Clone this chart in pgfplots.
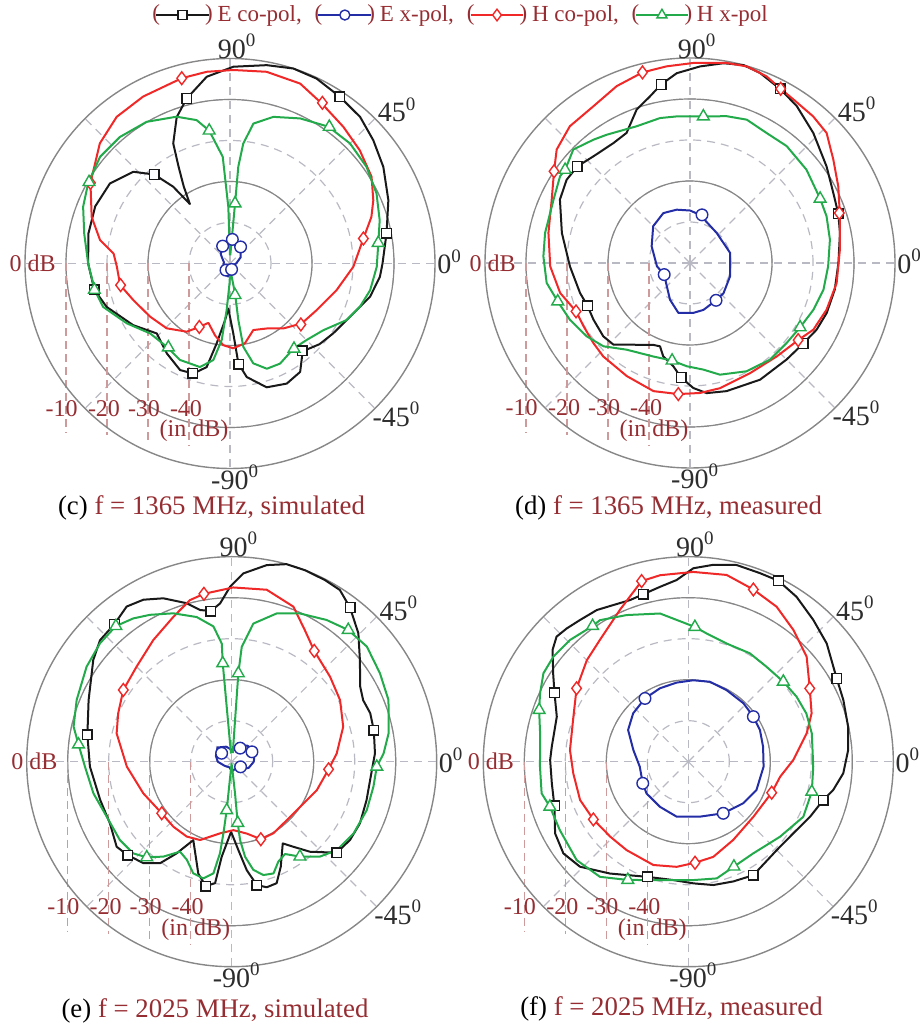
\documentclass[border=0pt]{standalone}
\usepackage{fontspec}
\setmainfont{Liberation Serif}
\usepackage{pgfplots}
\pgfplotsset{compat=1.18}
\usepgfplotslibrary{polar}

\definecolor{dred}{RGB}{150,45,50}
\definecolor{gridd}{RGB}{185,185,195}
\definecolor{grids}{RGB}{135,135,135}
\definecolor{pinkd}{RGB}{205,155,155}
\definecolor{cblk}{RGB}{25,25,25}
\definecolor{cblu}{RGB}{35,45,165}
\definecolor{cred}{RGB}{240,40,40}
\definecolor{cgrn}{RGB}{35,170,75}
\definecolor{lblc}{RGB}{45,45,45}

\newcommand\fa{\fontsize{14}{16}\selectfont}
\newcommand\fb{\fontsize{12}{14}\selectfont}
\newcommand\fcap{\fontsize{13.4}{15}\selectfont}
\newcommand\fleg{\fontsize{11.5}{13}\selectfont}
\newcommand\dg{\raisebox{0.42em}{\fontsize{9.5}{10}\selectfont 0}}

\pgfplotsset{
  pat/.style={
    scale only axis, width=205pt, height=205pt, anchor=center,
    xmin=0, xmax=360, ymin=0, ymax=50,
    xtick=\empty, ytick=\empty,
    x axis line style={grids, line width=0.7pt},
    y axis line style={draw=none},
    clip=false,
    y filter/.expression={y+50},
  },
  lE/.style={cblk, line width=1pt, no markers, line join=round},
  lX/.style={cblu, line width=1pt, no markers, line join=round},
  lH/.style={cred, line width=1pt, no markers, line join=round},
  lG/.style={cgrn, line width=1pt, no markers, line join=round},
  mE/.style={only marks, mark=square*, mark size=2.4pt, mark options={draw=cblk, fill=white, line width=0.7pt, solid}},
  mX/.style={only marks, mark=*, mark size=2.9pt, mark options={draw=cblu, fill=white, line width=0.7pt, solid}},
  mH/.style={only marks, mark=diamond*, mark size=3.2pt, mark options={draw=cred, fill=white, line width=0.7pt, solid}},
  mG/.style={only marks, mark=triangle*, mark size=3.4pt, mark options={draw=cgrn, fill=white, line width=0.7pt, solid}},
}

% polar grid: dashed spokes and rings, solid rings at -30 and -10 dB
\newcommand\pgrid[2]{%
 \begin{scope}[shift={(#1pt,#2pt)}]
  \foreach \a in {0,45,...,315} {\draw[gridd, line width=0.6pt, dash pattern=on 4pt off 3pt] (0pt,0pt) -- (\a:102.5pt);}
  \foreach \r in {20.5,41,61.5,82} {\draw[gridd, line width=0.6pt, dash pattern=on 4pt off 3pt] (0pt,0pt) circle[radius=\r pt];}
  \draw[grids, line width=0.6pt] (0pt,0pt) circle[radius=41pt];
  \draw[grids, line width=0.6pt] (0pt,0pt) circle[radius=82pt];
  \draw[pinkd, line width=0.6pt, dash pattern=on 4pt off 2.5pt] (-82pt,0pt) -- (-82pt,-85pt);
  \draw[pinkd, line width=0.6pt, dash pattern=on 4pt off 2.5pt] (-61.5pt,0pt) -- (-61.5pt,-86pt);
  \draw[pinkd, line width=0.6pt, dash pattern=on 4pt off 2.5pt] (-41pt,0pt) -- (-41pt,-90pt);
  \draw[pinkd, line width=0.6pt, dash pattern=on 4pt off 2.5pt] (-20.5pt,0pt) -- (-20.5pt,-91.5pt);
 \end{scope}}

\newcommand\labels[2]{%
 \begin{scope}[shift={(#1pt,#2pt)}]
  \node[text=lblc, font=\fa, inner sep=0pt] at (3.3pt,108.5pt) {90\dg};
  \node[text=lblc, font=\fa, inner sep=0pt] at (83.3pt,76.8pt) {45\dg};
  \node[text=lblc, font=\fa, inner sep=0pt] at (109.5pt,0.8pt) {0\dg};
  \node[text=lblc, font=\fa, inner sep=0pt] at (83pt,-75.3pt) {-45\dg};
  \node[text=lblc, font=\fa, inner sep=0pt] at (2.3pt,-106.8pt) {-90\dg};
  \node[text=dred, font=\fb, inner sep=0pt] at (-98.7pt,0pt) {0 dB};
  \node[text=dred, font=\fb, inner sep=0pt] at (-84.2pt,-72.5pt) {-10};
  \node[text=dred, font=\fb, inner sep=0pt] at (-63pt,-72.5pt) {-20};
  \node[text=dred, font=\fb, inner sep=0pt] at (-43pt,-72.5pt) {-30};
  \node[text=dred, font=\fb, inner sep=0pt] at (-22pt,-72.5pt) {-40};
  \node[text=dred, font=\fb, inner sep=0pt] at (-18pt,-83.8pt) {(in dB)};
 \end{scope}}

\begin{document}
\begin{tikzpicture}
\useasboundingbox (0pt,0pt) rectangle (460pt,513.5pt);
\pgrid{115}{381.75}
\pgrid{345}{382}
\pgrid{115.85}{132.65}
\pgrid{344.15}{132.65}

% ---------------- (c) 1365 MHz simulated ----------------
\begin{polaraxis}[pat, at={(115pt,381.75pt)},
  legend columns=4,
  legend style={at={(1.067,1.106)}, anchor=center, draw=none, fill=none, font=\fleg,
    inner sep=0pt, nodes={inner sep=2.4pt},
    /tikz/every even column/.append style={column sep=4pt}},
  legend image code/.code={%
    \draw[mark repeat=2, mark phase=2] plot coordinates {(0.8pt,0pt) (14pt,0pt) (27.2pt,0pt)};
    \node[text=dred, inner sep=0pt, font=\fleg] at (0.8pt,0.3pt) {(};
    \node[text=dred, inner sep=0pt, font=\fleg] at (27.2pt,0.3pt) {)};
  }]
\addlegendimage{cblk, line width=1pt, mark=square*, mark size=2.3pt, mark options={fill=white, line width=0.7pt}}
\addlegendentry{\textcolor{dred}{E co-pol,}}
\addlegendimage{cblu, line width=1pt, mark=*, mark size=2.5pt, mark options={fill=white, line width=0.7pt}}
\addlegendentry{\textcolor{dred}{E x-pol,}}
\addlegendimage{cred, line width=1pt, mark=diamond*, mark size=2.9pt, mark options={fill=white, line width=0.7pt}}
\addlegendentry{\textcolor{dred}{H co-pol,}}
\addlegendimage{cgrn, line width=1pt, mark=triangle*, mark size=2.9pt, mark options={fill=white, line width=0.7pt}}
\addlegendentry{\textcolor{dred}{H x-pol}}
\addplot[lE, forget plot] table {
0 -12.8
11 -11.1
21.8 -8.4
32.2 -5.8
40.7 -3.9
48.4 -2.2
56.6 -1.3
64.9 -0.2
72 0
79.5 -0.8
89 -2
97.1 -4.1
104.7 -8.4
110 -12
115.3 -17.6
118 -23.3
121 -28.1
124 -32.5
126.5 -26.7
130.4 -21.5
136.5 -17.5
146.3 -14.8
157 -14.3
168 -14.7
180 -15.4
191 -16.3
199.4 -18.1
212.5 -22
223.7 -25.3
234.9 -23.2
244.9 -21.3
251.6 -21.7
257.3 -24.1
260.5 -30.2
265 -36.1
267.9 -39
272.7 -32.9
274.8 -25.5
278.4 -22
286.5 -18.5
295.3 -17.6
302.9 -18.5
309.6 -22.2
318 -20.6
325.9 -19.6
336 -18
346.6 -14.9
354.9 -13.3
360 -12.8
};
\addplot[mE, forget plot] table {
11 -11.1
56.6 -1.3
104.7 -8.4
130.4 -21.5
191 -16.3
251.3 -21.7
275 -25.3
309.6 -22.4
};
\addplot[lX, forget plot] table {
0 -48.5
30 -47
57 -45.2
70 -45.8
84 -44.1
98 -45.2
113 -45.4
135 -46.8
170 -48.5
210 -48
239 -47.2
262 -46.8
285 -47.4
310 -48.5
340 -49
360 -48.5
};
\addplot[mX, forget plot] table {
113 -45.4
84.4 -44.1
57.4 -45.2
239 -48.1
285 -48.5
};
\addplot[lH, forget plot] table {
-1.5 -19.9
10.6 -16.9
18.2 -13.7
23.8 -11.8
31.5 -9.5
41.1 -8
50.3 -6.7
60.2 -5
68.7 -2.9
79.2 -2.4
89 -2.8
96.9 -2.9
104.6 -3.3
117.5 -4.1
127.7 -4.8
137.3 -6.8
150 -10.7
161.4 -14.4
169.8 -17.8
175.1 -21.5
181.7 -22.4
191.1 -22.7
200.8 -24.8
213.7 -26.6
225.7 -27.9
237.6 -30.3
244.2 -32.8
250 -34.6
258.2 -32.1
265.3 -30
272.2 -29.3
280.6 -30.2
289.3 -32.8
299.4 -31.8
309.4 -29.5
320.1 -27.2
331.7 -26
346 -23.2
358.5 -19.9
};
\addplot[mH, forget plot] table {
10.6 -16.9
60.1 -4.8
104.6 -3.3
150 -10.7
191.2 -22.8
244.2 -32.8
319.3 -27.2
};
\addplot[lG, forget plot] table {
88 -48
85.2 -35.3
85.1 -26.3
83.7 -20.6
80.5 -15.4
73.5 -12.7
64.2 -10.7
54.3 -8.9
45 -8.6
35.3 -9.2
25.5 -10.4
16.1 -12
7.7 -13.5
-1.3 -14.2
-10.8 -15.2
-18.4 -16.6
-25.9 -18.4
-35.5 -22
-45 -23.6
-53.3 -24.1
-63.4 -22.7
-70.7 -22.8
-76.9 -25
-80.9 -29.4
-81.6 -36
-80.5 -42.6
-87 -48.5
268.5 -45
265.9 -38.6
263.8 -31.2
260.2 -26.1
253.8 -23.7
242.6 -23.5
232.8 -24.5
221.2 -24.1
210.1 -20.9
198.9 -17.3
191.2 -16.4
180 -15.4
168.4 -13.7
158.9 -11.6
150.3 -10.2
140.6 -9
131 -9.1
120.5 -9.9
110 -11.9
103.1 -14.1
98.9 -17.2
93.9 -23.9
91.7 -36.2
90 -48
};
\addplot[mG, forget plot] table {
7.9 -13.5
54 -8.8
85.2 -35.3
98.9 -17.2
150 -10.3
191 -16.3
233.7 -24.6
279 -42.2
306.9 -24
};
\end{polaraxis}

% ---------------- (d) 1365 MHz measured ----------------
\begin{polaraxis}[pat, at={(345pt,382pt)}]
\addplot[lE] table {
18.3 -11.9
11.3 -12.7
0 -13.8
-10.4 -14.1
-20.1 -14.5
-27.8 -15.1
-35.4 -16.1
-45 -16.7
-59 -16.8
-74.1 -17.5
-82.7 -18
-88.5 -19.5
-94.5 -22
-99.2 -24.5
-106 -26.3
-109.8 -28.4
-114.2 -28.1
-133.2 -22.7
-139.8 -22.3
-149.6 -22.7
-157.4 -22.9
-164.7 -22.2
-178.4 -20.7
166.8 -17.9
154 -14.7
146 -13.7
139.4 -13.8
132.2 -14.9
122.6 -15.3
116 -14.7
109.2 -10.4
103.5 -8.2
99.2 -5.9
94 -3.6
87.1 -2
80.5 -0.6
74.9 0
69.8 -0.6
62.6 -2.2
55.8 -3.7
46.5 -6.3
35.3 -9.2
26 -11.1
18.3 -11.9
};
\addplot[mE] table {
18.3 -11.9
-35.4 -16.1
-94.5 -22
-157.4 -22.9
139.4 -13.8
99.2 -5.9
62.6 -2.2
};
\addplot[lX] table {
90 -37.2
78.3 -38
48.4 -40.2
14 -39.9
-18.4 -39.7
-42 -39
-55.1 -38.9
-74 -38.1
-86.2 -37.8
-103.1 -37.5
-118.6 -39.8
-135 -42
-155.8 -43.1
-174.3 -41.9
156.5 -39.8
135 -37.3
118.1 -36.2
104 -36.6
90 -37.2
};
\addplot[mX] table {
76 -37.9
-55.1 -38.9
-155.8 -43.1
};
\addplot[lH] table {
35.8 -6.9
27.3 -9.3
18.4 -11.5
5.1 -13.3
-7.8 -13.9
-18.9 -14.8
-28.4 -15.8
-35.5 -17.6
-47.1 -18.9
-61.4 -19.4
-76.5 -18.6
-85.6 -18.2
-95.1 -17.9
-105.9 -17.5
-119.2 -18.4
-132.9 -18.9
-140.4 -19.4
-149.3 -19.8
-157 -19.8
-167 -17.5
-178.6 -15.9
168 -14.7
155.4 -12.9
146 -10
139.6 -7.3
131.3 -5.6
121.7 -5.1
112.5 -3.3
104 -2.1
96.8 -1.7
89 -1.2
79.6 -0.4
73.9 -0.1
67.7 -0.8
62.5 -2.1
57.7 -2.8
50 -3.3
43.6 -4
35.8 -6.9
};
\addplot[mH] table {
104 -2.1
62.5 -2.1
18.5 -11.6
146 -10
-157 -19.8
-35.5 -17.6
-95.1 -17.9
};
\addplot[lG] table {
84.8 -14.1
76 -13.1
68.4 -12.4
59.5 -13.2
50.4 -13
38.7 -13.6
26.3 -14.6
18.9 -14.8
9.5 -15.4
-1.4 -16.3
-11.3 -16.8
-20.7 -17.8
-30.3 -18.9
-39.6 -19.4
-50.4 -19.4
-62.4 -20.2
-75 -21.8
-82.9 -23.8
-91.8 -24.8
-100.4 -25.8
-111.4 -25.5
-126.2 -23.8
-136.1 -20.7
-144.6 -19.1
-154.7 -17.6
-163.8 -16.4
-172.1 -14.7
177.4 -14.2
168.3 -13.9
155.1 -13.3
146.3 -11.9
143.3 -12
135.8 -10.3
128.1 -11.8
123 -12.7
111.3 -14.2
101.7 -13.9
95.2 -14.1
84.8 -14.1
};
\addplot[mG] table {
84.8 -14.1
26.3 -14.6
-30.3 -18.9
-100.4 -25.8
-163.8 -16.4
143.3 -12
};
\end{polaraxis}

% ---------------- (e) 2025 MHz simulated ----------------
\begin{polaraxis}[pat, at={(115.85pt,132.65pt)}]
\addplot[lE] table {
12.5 -14.5
19.3 -14.2
25.1 -14.6
30.3 -13.7
38.4 -10.1
45.4 -6
52.5 -2.6
57.8 -0.5
62.8 -0.2
69 0
74.5 0
79.9 -1.3
86.5 -4
90.5 -7.3
94.2 -11.3
97.9 -12.9
101.8 -12.2
105.9 -9.8
112.7 -6.8
118.6 -5
124.1 -4.3
130.4 -5.9
137.3 -6.3
143.7 -8.1
156.7 -12
169.5 -14.2
182 -15.4
196.2 -16.6
206.9 -16.7
216.5 -15.1
221.9 -15.9
229 -17.2
234.8 -19.7
239 -23.9
243.9 -28.7
253.4 -21.5
258.2 -19
262.2 -20.1
264 -26.7
269.5 -32.9
274.3 -28.4
277.9 -23.3
281.5 -19.3
285.6 -18.2
290.3 -18.4
295 -21.7
302 -26.5
305.9 -24.4
311 -20.9
319.1 -16.1
326.5 -15.4
334.3 -15.3
344.1 -15.8
353.8 -15.9
363.3 -15
372.5 -14.5
};
\addplot[mE] table {
12.5 -14.5
52.5 -2.6
97.9 -12.9
130.4 -5.9
169.5 -14.2
221.9 -15.9
258.2 -19
281.5 -19.3
319.1 -16.1
};
\addplot[lX] table {
0 -44.6
20 -44.1
45 -44.5
70 -45.8
90 -47.1
110 -46.1
135 -45.1
160 -45.9
180 -46.6
210 -48
250 -48.5
270 -47.6
290 -48
320 -47.1
340 -45.6
360 -44.6
};
\addplot[mX] table {
140 -46.8
58 -46.1
26 -44.5
330 -47.5
};
\addplot[lH] table {
99.4 -8.5
89.5 -7.5
78.5 -7.2
68.3 -9.3
60.9 -13.3
53.3 -16.3
40.8 -18.3
29.6 -19.6
17.4 -21.5
4.5 -24.3
-4.5 -26.3
-18.4 -28.1
-33.4 -30
-46.7 -30.4
-59.8 -29.8
-69.4 -29.8
-78.2 -32.1
-88.6 -33.3
-99.2 -32.3
-112 -29.4
-121 -28.7
-131.9 -28.7
-143.6 -28.8
-160.3 -27.1
-177.3 -24.4
166.2 -21.1
156.9 -19.9
146.5 -18.3
135 -17.2
122.8 -14.7
111.9 -11.9
104.5 -9.3
99.4 -8.5
};
\addplot[mH] table {
99.4 -8.5
53.3 -16.3
-4.5 -26.3
-69.4 -29.8
-143.6 -28.8
146.5 -18.3
};
\addplot[lG] table {
83 -47.9
85.7 -28.4
85 -21.9
81.1 -15.9
73.1 -12.2
65.3 -10.2
56.2 -8.4
48.5 -7.1
40.4 -6.7
30.8 -7.9
21.5 -8.9
10.3 -11.1
3.1 -12.9
-2 -14.6
-10 -14.9
-19.7 -15
-30.5 -15.5
-40.1 -16.5
-47.1 -18.4
-54.3 -21.5
-60 -24
-65 -23.1
-69.5 -20.9
-74.4 -21.3
-78.7 -23.1
-82 -26.6
-83.9 -30.8
-84.4 -35
-84 -42.2
-85 -48
265 -49.5
264.1 -38.1
263.4 -32.4
262.7 -27.5
260.7 -22.4
256.3 -20.7
251 -21.2
245.4 -23.7
240.1 -24.7
234.3 -21.5
228.4 -18.8
223 -17.2
215 -16.7
203.7 -16.7
192.9 -15.4
182 -14.2
173.6 -12.4
167.5 -10.5
158.3 -9.3
146.8 -7.7
138 -6.8
130.5 -6.5
124.5 -7.6
119.1 -9
111.5 -11.1
103.6 -13.7
97.7 -16.7
94.8 -21.1
95.2 -25.9
95.2 -36.5
95 -48
};
\addplot[mG] table {
48.5 -7.1
85.7 -28.4
95.2 -25.9
130.5 -6.5
173.6 -12.4
228.4 -18.8
264.1 -38.1
-84.4 -35
-54.3 -21.5
-2 -14.6
};
\end{polaraxis}

% ---------------- (f) 2025 MHz measured ----------------
\begin{polaraxis}[pat, at={(344.15pt,132.65pt)}]
\addplot[lE] table {
63.5 -0.7
56.7 -1.9
48.6 -3.9
40.5 -5.6
29.3 -8.5
21.7 -9.3
12.3 -10.1
4.2 -10.9
-4.3 -12.1
-11.1 -14
-15.9 -15.8
-24.3 -17.4
-34.3 -19
-45 -19.5
-60.2 -18.1
-69.4 -18.8
-78.5 -19.3
-87.6 -20.3
-97.2 -20.9
-109.5 -20.2
-125 -16.7
-135.9 -13.2
-143.7 -12.2
-151.7 -13.1
-161.7 -15.6
-171 -16.3
179.3 -16.3
173.7 -16.5
161.1 -16.1
152.8 -13.3
146.8 -10.6
140.5 -7.1
136.5 -5.7
132.4 -6
127.4 -6.5
121.1 -6.8
116.7 -7.5
109.8 -8.1
105.1 -7.7
99.2 -6.8
93.7 -5.6
88.5 -2.8
82.8 -1.6
76.2 -0.6
69.2 -0.8
63.5 -0.7
};
\addplot[mE] table {
63.5 -0.7
29.3 -8.5
-15.9 -15.8
-60.2 -18.1
-109.5 -20.2
-161.7 -15.6
152.8 -13.3
105.1 -7.7
};
\addplot[lX] table {
124.4 -31.3
138.7 -32.1
152.2 -33.4
168 -36.3
-174.1 -38.1
-154.6 -37.7
-142.8 -37.2
-122.2 -37
-102 -36.3
-78 -36.3
-55.9 -34.8
-37.1 -33.2
-22.5 -32
-3.8 -31.6
11.3 -31.4
23.8 -30.9
34.7 -30.7
46.7 -30.4
61.9 -30.2
74.8 -29.8
86.5 -30.1
98.4 -30.5
111.1 -30.8
124.4 -31.3
};
\addplot[mX] table {
124.4 -31.3
34.7 -30.7
-154.6 -37.7
-55.9 -34.8
};
\addplot[lH] table {
104.5 -4.5
98.6 -4
88.5 -3.7
78.4 -3.5
69.3 -5.1
60.3 -6.5
51.4 -8.9
41.6 -11.4
31.1 -15.4
21.4 -17.7
13.5 -20.3
0.9 -24.4
-9.3 -27.3
-20.4 -28.3
-40.2 -29.2
-60.1 -28
-75.3 -26
-86.2 -25.3
-96.3 -24.2
-108.7 -23.4
-124.9 -23.7
-136.2 -23.6
-148.7 -22.9
-160.5 -22
-174.2 -21.8
174.4 -21
158.6 -19.9
146.7 -17.4
135 -15
126 -13.3
114.3 -9.4
104.5 -4.5
};
\addplot[mH] table {
104.5 -4.5
69.3 -5.1
31.1 -15.4
-20.4 -28.3
-86.2 -25.3
-148.7 -22.9
146.7 -17.4
};
\addplot[lG] table {
87.2 -17.1
100.8 -13.2
112.8 -11.2
122 -9.3
125.2 -9.5
134.2 -8.6
142.1 -8.3
148.6 -8.6
155.3 -10.2
160.9 -11.5
169.2 -13.2
-178.1 -13.8
-167.8 -13.4
-162 -14.5
-152 -14.5
-138.6 -13.7
-127.5 -14.6
-117.1 -17.6
-103.5 -20.3
-87.6 -21.1
-76.3 -20.7
-66.5 -22.1
-54.7 -22.6
-39.3 -21.1
-25.6 -18.9
-13.7 -19
-2.3 -19.5
12.9 -19.1
22.2 -18.9
31 -19.2
40.1 -19.7
50.5 -20
60.4 -19.6
72.1 -19.7
81.9 -18.4
87.2 -17.1
};
\addplot[mG] table {
87.2 -17.1
125.2 -9.5
160.9 -11.5
-162 -14.5
-117.1 -17.6
-66.5 -22.1
-13.7 -19
40.1 -19.7
};
\end{polaraxis}

\labels{115}{381.75}
\labels{345}{382}
\labels{115.85}{132.65}
\labels{344.15}{132.65}

\node[font=\fcap, inner sep=0pt] at (105.75pt,259.5pt) {(c)\ \textcolor{dred}{f = 1365 MHz, simulated}};
\node[font=\fcap, inner sep=0pt] at (334.25pt,259.5pt) {(d)\ \textcolor{dred}{f = 1365 MHz, measured}};
\node[font=\fcap, inner sep=0pt] at (107.5pt,8pt) {(e)\ \textcolor{dred}{f = 2025 MHz, simulated}};
\node[font=\fcap, inner sep=0pt] at (335.75pt,9pt) {(f)\ \textcolor{dred}{f = 2025 MHz, measured}};
\end{tikzpicture}
\end{document}
